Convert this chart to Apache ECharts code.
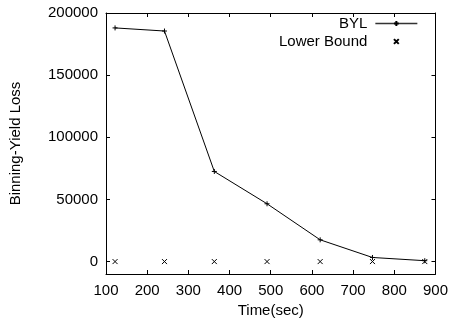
<!DOCTYPE html>
<html>
<head>
<meta charset="utf-8">
<script src="https://cdn.jsdelivr.net/npm/echarts@6/dist/echarts.min.js"></script>
<style>html,body{margin:0;padding:0;background:#fff}#c{width:451px;height:324px}</style>
</head>
<body>
<div id="c"></div>
<script>
var times = [122, 242, 363, 491, 620, 747, 874];
var bylValues = [188000, 185500, 72500, 46500, 17500, 3300, 700];
var lowerBoundValues = [0, 0, 0, 0, 0, 0, 0];
var yTickValues = [0, 50000, 100000, 150000, 200000];
var xTickValues = [100, 200, 300, 400, 500, 600, 700, 800, 900];

var FONT = "'Liberation Sans', Arial, Helvetica, sans-serif";
function pairs(xs, ys) { return xs.map(function (x, i) { return [x, ys[i]]; }); }
function plain(v) { return String(v); }

var chart = echarts.init(document.getElementById('c'), null, { renderer: 'canvas' });
var axisLine = { show: true, onZero: false, lineStyle: { color: '#000', width: 1 } };
var tickIn = { show: true, inside: true, length: 4, lineStyle: { color: '#000', width: 1 } };
chart.setOption({
  animation: false,
  grid: { left: 105, right: 15, top: 13, bottom: 50, containLabel: false },
  legend: {
    orient: 'vertical', right: 33, top: 16, align: 'right', padding: 0,
    itemWidth: 42, itemHeight: 6, itemGap: 3,
    lineStyle: { width: 1.3, color: '#333' },
    textStyle: { fontFamily: FONT, fontSize: 15, color: '#000', padding: [0, 3, 0, 0] },
    data: ['BYL', 'Lower Bound'],
    selectedMode: false
  },
  xAxis: [
    { type: 'value', min: 100, max: 900, interval: 100, position: 'bottom',
      name: 'Time(sec)', nameLocation: 'middle', nameGap: 23,
      nameTextStyle: { fontFamily: FONT, fontSize: 15, color: '#000' },
      axisLine: axisLine, axisTick: tickIn, splitLine: { show: false },
      axisLabel: { fontFamily: FONT, fontSize: 15, color: '#000', margin: 9, formatter: plain } },
    { type: 'value', min: 100, max: 900, interval: 100, position: 'top',
      axisLine: axisLine, axisTick: tickIn, splitLine: { show: false },
      axisLabel: { show: false } }
  ],
  yAxis: [
    { type: 'value', min: -10000, max: 200000, position: 'left',
      name: 'Binning-Yield Loss', nameLocation: 'middle', nameGap: 83,
      nameTextStyle: { fontFamily: FONT, fontSize: 15, color: '#000' },
      axisLine: axisLine, splitLine: { show: false },
      axisTick: { show: true, inside: true, length: 4, lineStyle: { color: '#000' }, customValues: yTickValues },
      axisLabel: { fontFamily: FONT, fontSize: 15, color: '#000', margin: 8, customValues: yTickValues, formatter: plain } },
    { type: 'value', min: -10000, max: 200000, position: 'right',
      axisLine: axisLine, splitLine: { show: false },
      axisTick: { show: true, inside: true, length: 4, lineStyle: { color: '#000' }, customValues: yTickValues },
      axisLabel: { show: false, customValues: yTickValues } }
  ],
  series: [
    { name: 'BYL', type: 'line', xAxisIndex: 0, yAxisIndex: 0,
      data: pairs(times, bylValues),
      symbol: 'path://M5,0L5,10M0,5L10,5', symbolSize: 5, showAllSymbol: true,
      lineStyle: { color: '#000', width: 1 },
      itemStyle: { color: '#000', borderColor: '#000', borderWidth: 1 },
      emphasis: { disabled: true } },
    { name: 'Lower Bound', type: 'line', xAxisIndex: 0, yAxisIndex: 0,
      data: pairs(times, lowerBoundValues),
      symbol: 'path://M0,0L10,10M10,0L0,10', symbolSize: 5, showAllSymbol: true,
      lineStyle: { color: '#000', width: 0, opacity: 0 },
      itemStyle: { color: '#000', borderColor: '#000', borderWidth: 1 },
      emphasis: { disabled: true } }
  ]
});
</script>
</body>
</html>
